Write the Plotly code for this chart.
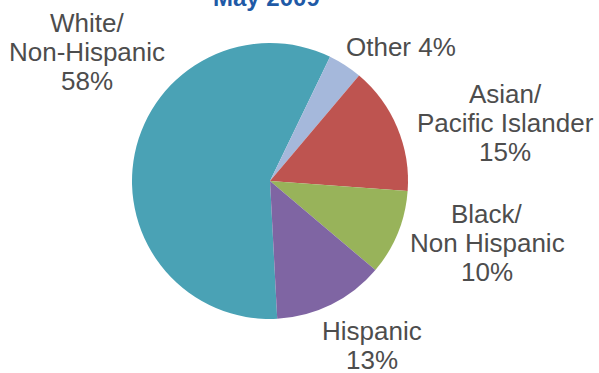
import plotly.graph_objects as go

W, H = 599, 373

# Data
categories = ["White/<br>Non-Hispanic", "Other", "Asian/<br>Pacific Islander",
              "Black/<br>Non Hispanic", "Hispanic"]
values = [58, 4, 15, 10, 13]
colors = ["#4AA2B5", "#A5B8DB", "#BE5450", "#98B35A", "#7F65A3"]
title_text = "May 2009"

# label layout: (center x px, first-line center y px, percent on own line)
label_pos = [(87, 23, True), (401, 47, False), (505, 94, True), (487, 214, True), (372, 331, True)]
line_gap = 29

cx, cy, r = 270, 181, 138

fig = go.Figure(go.Pie(
    labels=categories,
    values=values,
    sort=False,
    direction="clockwise",
    rotation=177,
    marker=dict(colors=colors, line=dict(width=0)),
    textinfo="none",
    hoverinfo="label+percent",
    showlegend=False,
    domain=dict(x=[(cx - r) / W, (cx + r) / W],
                y=[(H - cy - r) / H, (H - cy + r) / H]),
))

annotations = []
total = sum(values)
for cat, val, (lx, ly, own) in zip(categories, values, label_pos):
    pct = f"{round(100 * val / total)}%"
    lines = cat.split("<br>")
    if own:
        lines = lines + [pct]
    else:
        lines[-1] = lines[-1] + " " + pct
    for i, ln in enumerate(lines):
        ypx = ly + i * line_gap
        annotations.append(dict(
            text=ln, x=lx / W, y=1 - ypx / H, xref="paper", yref="paper",
            xanchor="center", yanchor="middle", showarrow=False,
            font=dict(family="Liberation Sans, Arial, sans-serif", size=26, color="#4D4D4D"),
        ))

annotations.append(dict(
    text=f"<b>{title_text}</b>", x=266 / W, y=1 - (-3) / H, xref="paper", yref="paper",
    xanchor="center", yanchor="middle", showarrow=False,
    font=dict(family="Liberation Sans, Arial, sans-serif", size=24, color="#1F5AA6"),
))

fig.update_layout(
    width=W, height=H,
    margin=dict(l=0, r=0, t=0, b=0),
    paper_bgcolor="white", plot_bgcolor="white",
    annotations=annotations,
)

fig.write_html("out.html", config={"displayModeBar": False},
               post_script="document.body.style.margin='0';document.body.style.overflow='hidden';")
